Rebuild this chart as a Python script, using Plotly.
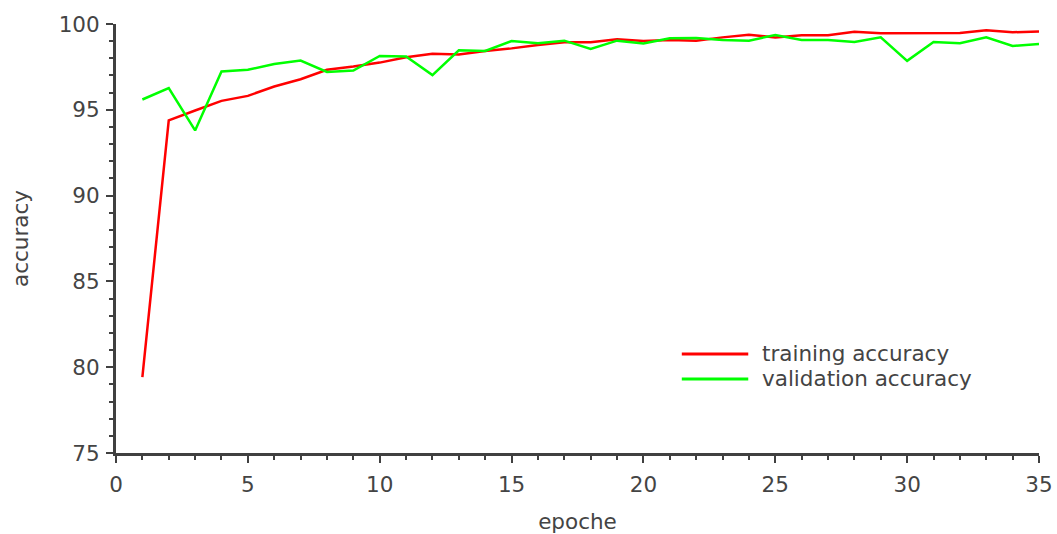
import plotly.graph_objects as go

epochs = list(range(1, 36))
training_accuracy = [79.42, 94.38, 94.96, 95.52, 95.81, 96.36, 96.78, 97.33, 97.52, 97.75,
                     98.06, 98.27, 98.22, 98.43, 98.58, 98.78, 98.93, 98.93, 99.11, 99.01,
                     99.07, 99.03, 99.22, 99.38, 99.22, 99.34, 99.34, 99.55, 99.46, 99.48,
                     99.50, 99.48, 99.63, 99.52, 99.57]
validation_accuracy = [95.60, 96.26, 93.80, 97.23, 97.33, 97.67, 97.87, 97.21, 97.29, 98.14,
                       98.10, 97.02, 98.47, 98.43, 99.01, 98.88, 99.03, 98.55, 99.03, 98.86,
                       99.17, 99.19, 99.07, 99.03, 99.36, 99.07, 99.07, 98.95, 99.22, 97.85,
                       98.95, 98.88, 99.22, 98.72, 98.84]
series_names = ["training accuracy", "validation accuracy"]
series_colors = ["#ff0000", "#00ff00"]

axis_color = "#404040"
text_color = "#444444"
font_family = "DejaVu Sans"
fsize = 21.5

fig = go.Figure()
for name, vals, col in zip(series_names, [training_accuracy, validation_accuracy], series_colors):
    fig.add_trace(go.Scatter(x=epochs, y=vals, mode="lines", name=name,
                             line=dict(color=col, width=2.5), showlegend=False))

# manual legend (long line samples)
leg_x0, leg_x1 = 0.613, 0.685
leg_y = [0.2308, 0.1725]
for name, col, yy in zip(series_names, series_colors, leg_y):
    fig.add_shape(type="line", xref="paper", yref="paper", x0=leg_x0, x1=leg_x1, y0=yy, y1=yy,
                  line=dict(color=col, width=3))
    fig.add_annotation(xref="paper", yref="paper", x=0.6977, y=yy, text=name, showarrow=False,
                       xanchor="left", yanchor="middle",
                       font=dict(family=font_family, size=fsize, color=text_color))

axis_common = dict(
    showgrid=False, zeroline=False, showline=True, linewidth=3, linecolor=axis_color,
    ticks="outside", ticklen=7, tickwidth=2, tickcolor=axis_color, automargin=False,
    tickfont=dict(family=font_family, size=fsize, color=text_color),
    minor=dict(dtick=1, ticks="outside", ticklen=4, tickwidth=2, tickcolor=axis_color),
)

fig.update_xaxes(range=[0, 35], dtick=5, tick0=0, ticklabelstandoff=3,
                 title=dict(text="epoche", font=dict(family=font_family, size=fsize, color=text_color),
                            standoff=32),
                 **axis_common)
fig.update_yaxes(range=[75, 100], dtick=5, tick0=75, ticklabelstandoff=2,
                 title=dict(text="accuracy", font=dict(family=font_family, size=fsize, color=text_color),
                            standoff=25),
                 **axis_common)

fig.update_layout(
    width=1057, height=534,
    margin=dict(l=116, r=18, t=24, b=81),
    plot_bgcolor="white", paper_bgcolor="white",
    font=dict(family=font_family, size=fsize, color=text_color),
)

fig.write_html("out.html")
